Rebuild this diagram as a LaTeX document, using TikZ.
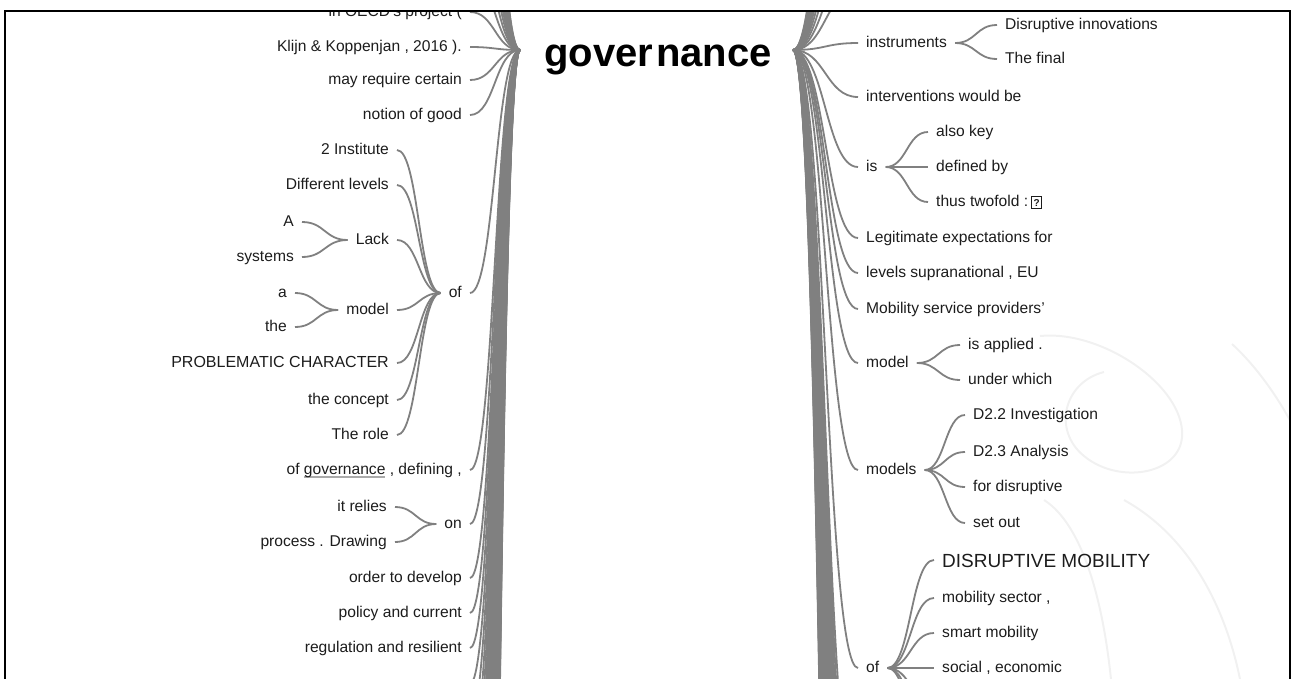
\documentclass[tikz,border=0pt]{standalone}
\usepackage{fontspec}
\setmainfont{Liberation Sans}
\usetikzlibrary{calc}
\definecolor{linkgray}{RGB}{128,128,128}
\definecolor{txt}{RGB}{28,28,28}
\definecolor{wmark}{RGB}{241,241,241}
\definecolor{ulgray}{RGB}{170,170,170}
\newsavebox\govbox
\newcommand\ugov{\sbox\govbox{governance}\rlap{\textcolor{ulgray}{\rule[-3.5pt]{\wd\govbox}{1.6pt}}}\usebox\govbox}
\newcommand\qbox{{\setlength\fboxsep{1.6pt}\setlength\fboxrule{1pt}\fbox{\fontsize{10}{10}\selectfont\bfseries ?}}}
\newcommand\wlink[2]{\draw[link] let \p1=(#1), \p2=(#2) in (\p1) .. controls ({0.5*\x1+0.5*\x2},\y1) and ({0.5*\x1+0.5*\x2},\y2) .. (\p2);}
\tikzset{
  w/.style={font=\fontsize{15.6}{18}\selectfont, text=txt, inner xsep=8pt, inner ysep=0pt, text height=11pt, text depth=3pt},
  lw/.style={w, anchor=east},
  rw/.style={w, anchor=west},
  link/.style={draw=linkgray, line width=1.8pt},
  wm/.style={draw=wmark, line width=2pt},
}
\begin{document}
\begin{tikzpicture}[x=1pt,y=-1pt]
\useasboundingbox (0,0) rectangle (1295,678);
\begin{scope}
\clip (5,11) rectangle (1290,700);
% faint watermark
\draw[wm] (1040,336) .. controls (1100,330) and (1178,382) .. (1182,430) .. controls (1186,474) and (1120,486) .. (1084,456) .. controls (1052,430) and (1064,382) .. (1104,372);
\draw[wm] (1044,500) .. controls (1082,524) and (1104,600) .. (1112,690);
\draw[wm] (1124,500) .. controls (1196,540) and (1230,620) .. (1242,690);
\draw[wm] (1232,344) .. controls (1258,368) and (1278,398) .. (1292,424);
% root
\node[font=\fontsize{40}{44}\selectfont\bfseries, text=black, anchor=base, inner sep=0pt] (root) at (658,66) {gover\kern3pt nance};
\coordinate (rootL) at (520,50);
\coordinate (rootR) at (793,50);
% left depth 1
\node[lw] (l0) at (470,12) {in OECD’s project (};
\node[lw] (l1) at (470,47) {Klijn \& Koppenjan , 2016 ).};
\node[lw] (l2) at (470,80) {may require certain};
\node[lw] (l3) at (470,115) {notion of good};
\node[lw] (lof) at (470,293) {of};
\node[lw] (lgov) at (470,470) {of \ugov{} , defining ,};
\node[lw] (lon) at (470,524) {on};
\node[lw] (l7) at (470,578) {order to develop};
\node[lw] (l8) at (470,613) {policy and current};
\node[lw] (l9) at (470,648) {regulation and resilient};
% children of "of"
\node[lw] (inst) at (397,150) {2 Institute};
\node[lw] (diff) at (397,185) {Different levels};
\node[lw] (lack) at (397,240) {Lack};
\node[lw] (lmodel) at (397,310) {model};
\node[lw, font=\fontsize{16}{18}\selectfont] (prob) at (397,363) {PROBLEMATIC CHARACTER};
\node[lw] (concept) at (397,400) {the concept};
\node[lw] (role) at (397,435) {The role};
% children of "on"
\node[lw] (relies) at (395,507) {it relies};
\node[lw] (drawing) at (395,542) {process . Drawing};
% children of Lack / model
\node[lw] (capA) at (302,222) {A};
\node[lw] (lsys) at (302,257) {systems};
\node[lw] (smalla) at (295,293) {a};
\node[lw] (lthe) at (295,327) {the};
% right depth 1
\node[rw] (instr) at (858,43) {instruments};
\node[rw] (interv) at (858,97) {interventions would be};
\node[rw] (ris) at (858,167) {is};
\node[rw] (legit) at (858,238) {Legitimate expectations for};
\node[rw] (levels) at (858,273) {levels supranational , EU};
\node[rw] (mobprov) at (858,309) {Mobility service providers’};
\node[rw] (rmodel) at (858,363) {model};
\node[rw] (rmodels) at (858,470) {models};
\node[rw] (rof) at (858,668) {of};
% right depth 2
\node[rw] (disr) at (997,25) {Disruptive innovations};
\node[rw] (final) at (997,59) {The final};
\node[rw] (alsokey) at (928,132) {also key};
\node[rw] (defby) at (928,167) {defined by};
\node[rw] (twofold) at (928,202) {thus twofold :\hspace{3pt}\qbox};
\node[rw] (applied) at (960,345) {is applied .};
\node[rw] (underw) at (960,380) {under which};
\node[rw] (d22) at (965,415) {D2.2 Investigation};
\node[rw] (d23) at (965,452) {D2.3 Analysis};
\node[rw] (fordis) at (965,487) {for disruptive};
\node[rw] (setout) at (965,523) {set out};
\node[rw, font=\fontsize{19}{22}\selectfont, text height=14pt, text depth=0pt] (dismob) at (934,560) {DISRUPTIVE MOBILITY};
\node[rw] (mobsec) at (934,598) {mobility sector ,};
\node[rw] (smart) at (934,633) {smart mobility};
\node[rw] (social) at (934,668) {social , economic};
\coordinate (rofq) at (934,703);
\coordinate (rofr) at (934,739);
\coordinate (rofs) at (934,775);
% off-view continuation points
\foreach \k in {0,...,40} {\coordinate (plb\k) at (470,{684+35.4*\k});}
\foreach \k in {1,...,14} {\coordinate (pla\k) at (470,{12-35.4*\k});}
\foreach \k in {1,...,14} {\coordinate (pra\k) at (858,{25-35.7*\k});}
\foreach \k in {1,...,36} {\coordinate (prb\k) at (858,{775+35.7*\k});}
% links: left
\foreach \nm in {l0,l1,l2,l3,lof,lgov,lon,l7,l8,l9} {\wlink{\nm.east}{rootL}}
\foreach \k in {0,...,40} {\wlink{plb\k}{rootL}}
\foreach \k in {1,...,14} {\wlink{pla\k}{rootL}}
\foreach \nm in {inst,diff,lack,lmodel,prob,concept,role} {\wlink{\nm.east}{lof.west}}
\foreach \nm in {relies,drawing} {\wlink{\nm.east}{lon.west}}
\foreach \nm in {capA,lsys} {\wlink{\nm.east}{lack.west}}
\foreach \nm in {smalla,lthe} {\wlink{\nm.east}{lmodel.west}}
% links: right
\foreach \nm in {instr,interv,ris,legit,levels,mobprov,rmodel,rmodels,rof} {\wlink{rootR}{\nm.west}}
\foreach \k in {1,...,14} {\wlink{rootR}{pra\k}}
\foreach \k in {1,...,36} {\wlink{rootR}{prb\k}}
\foreach \nm in {disr,final} {\wlink{instr.east}{\nm.west}}
\foreach \nm in {alsokey,defby,twofold} {\wlink{ris.east}{\nm.west}}
\foreach \nm in {applied,underw} {\wlink{rmodel.east}{\nm.west}}
\foreach \nm in {d22,d23,fordis,setout} {\wlink{rmodels.east}{\nm.west}}
\foreach \nm in {dismob,mobsec,smart,social} {\wlink{rof.east}{\nm.west}}
\foreach \nm in {rofq,rofr,rofs} {\wlink{rof.east}{\nm}}
\end{scope}
% frame
\draw[line width=1.6pt, black] (5,700) -- (5,11) -- (1290,11) -- (1290,700);
\end{tikzpicture}
\end{document}
